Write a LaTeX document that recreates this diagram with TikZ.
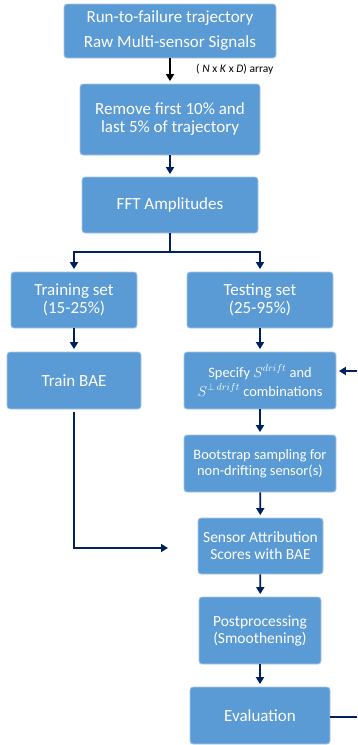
\documentclass[tikz,border=0pt]{standalone}
\usepackage{fontspec}
\setmainfont{Carlito}
\usetikzlibrary{arrows.meta}
\definecolor{boxblue}{HTML}{5B9BD5}
\definecolor{navy}{HTML}{002060}
\newcommand{\stagefont}{\fontsize{17}{18}\selectfont}
\newcommand{\smallstagefont}{\fontsize{14.4}{15.5}\selectfont}

\tikzset{
    stage/.style={draw=boxblue!55!white, line width=0.8pt, fill=boxblue, rounded corners=3pt,
        text=white, align=center, inner sep=0pt, font=\stagefont},
    flow/.style={draw=navy, line width=1.7pt, -{Triangle[width=8pt,length=7pt]}, shorten >=2.5pt},
}

\begin{document}
\begin{tikzpicture}[x=1pt, y=-1pt]
        \useasboundingbox (0, 0) rectangle (357, 745);

        % main pipeline
        \node[stage, minimum width=212, minimum height=54, font=\fontsize{17}{25}\selectfont] (raw) at (170, 31)
            {Run-to-failure trajectory\\Raw Multi-sensor Signals};
        \node[stage, minimum width=180, minimum height=71] (trim) at (170, 119.5)
            {Remove first 10\% and\\last 5\% of trajectory};
        \node[stage, minimum width=176, minimum height=56] (fft) at (170, 205) {FFT Amplitudes};

        % split
        \node[stage, minimum width=126, minimum height=56] (train) at (74, 300) {Training set\\(15-25\%)};
        \node[stage, minimum width=146, minimum height=56] (test) at (260, 300) {Testing set\\(25-95\%)};
        \node[stage, minimum width=134, minimum height=57] (bae) at (74, 380.5) {Train BAE};
        \node[stage, minimum width=152, minimum height=57, font=\fontsize{14.4}{19}\selectfont] (spec) at (260, 380.5)
            {Specify $S^{drift}$ and\\$S^{\perp\, drift}$ combinations};
        \node[stage, minimum width=152, minimum height=57, font=\smallstagefont] (boot) at (260, 463.5)
            {Bootstrap sampling for\\non-drifting sensor(s)};
        \node[stage, minimum width=125, minimum height=56, font=\fontsize{15.5}{17}\selectfont] (sas) at (260.5, 546)
            {Sensor Attribution\\Scores with BAE};
        \node[stage, minimum width=122, minimum height=67, font=\fontsize{15.5}{17}\selectfont] (post) at (260, 630.5)
            {Postprocessing\\(Smoothening)};
        \node[stage, minimum width=140, minimum height=57] (eval) at (260, 715.5) {Evaluation};

        \node[anchor=west, inner sep=0pt, font=\fontsize{11.5}{13}\selectfont] (shape) at (196, 69)
            {( \textit{N} x \textit{K} x \textit{D}) array};

        \coordinate (fork) at (170, 252);
        \coordinate (baein) at (168, 548);
        \coordinate (loopin) at (357, 371);
        \coordinate (loopout) at (357, 717);

        % arrows
        \draw[flow, draw=black] (raw) -- (trim);
        \draw[flow] (trim) -- (fft);
        \draw[navy, line width=1.7pt] (fft) -- (fork);
        \draw[flow] (fork) -| (train);
        \draw[flow] (fork) -| (test);
        \draw[flow] (train) -- (bae);
        \draw[flow] (test) -- (spec);
        \draw[flow] (spec) -- (boot);
        \draw[flow] (boot) -- (sas);
        \draw[flow] (sas) -- (post);
        \draw[flow] (post) -- (eval);

        % trained model goes to the scoring step
        \draw[navy, line width=2.6pt] ([yshift=-3pt]bae.south) -- (bae.south |- baein);
        \draw[flow, shorten >=0pt] ([xshift=-1.3pt]bae.south |- baein) -- (baein);

        % loop back from evaluation
        \draw[navy, line width=2.6pt] (eval.east |- loopout) -- (loopout);
        \draw[flow, line width=2.2pt] (loopin) -- (spec.east |- loopin);
    \end{tikzpicture}
\end{document}
